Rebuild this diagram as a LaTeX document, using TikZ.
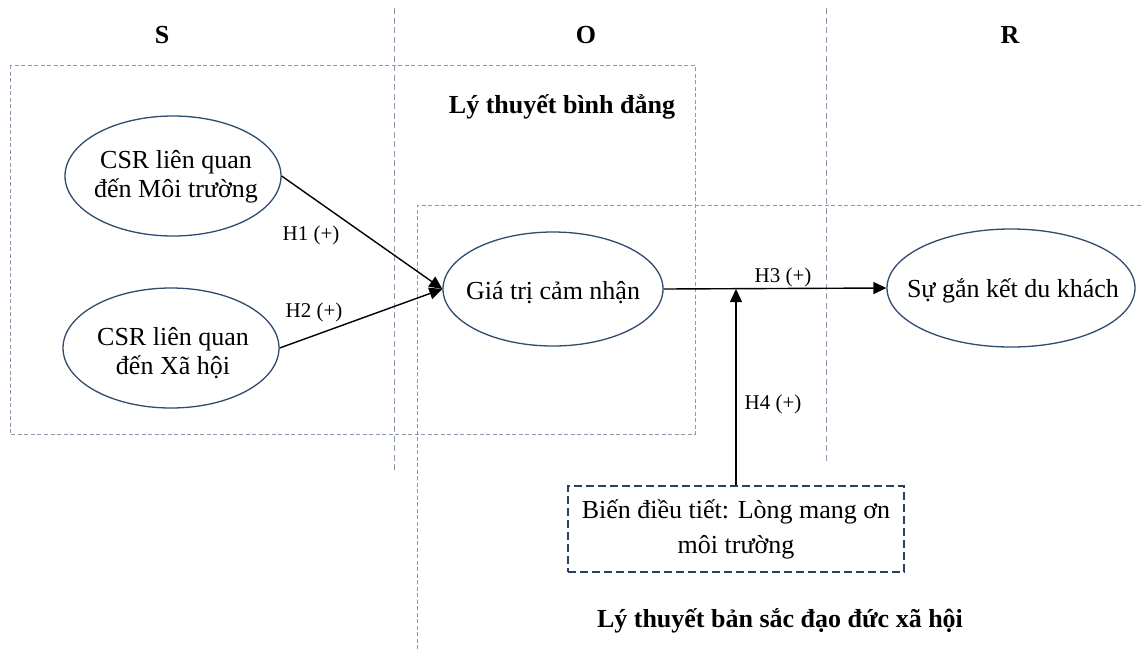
\documentclass[tikz,border=0pt]{standalone}
\usepackage{fontspec}
\setmainfont{Liberation Serif}
\usetikzlibrary{arrows.meta,shapes.geometric,calc}
\definecolor{ellcol}{HTML}{2F4B6E}
\definecolor{dashgrey}{HTML}{8A99AE}
\definecolor{boxcol}{HTML}{27405F}
\begin{document}
\begin{tikzpicture}[x=1pt,y=-1pt,
  ell/.style={ellipse, draw=ellcol, line width=1.3pt, inner sep=0pt},
  etxt/.style={align=center, inner sep=0pt, font=\fontsize{26}{29.5}\selectfont},
  head/.style={inner sep=0pt, anchor=base, font=\bfseries\fontsize{26}{30}\selectfont},
  hlab/.style={inner sep=0pt, anchor=base, font=\fontsize{21}{24}\selectfont},
  region/.style={draw=dashgrey, line width=1pt, dash pattern=on 4pt off 2.5pt},
  divider/.style={draw=dashgrey, line width=1pt, dash pattern=on 6pt off 3.5pt},
  modbox/.style={rectangle, draw=boxcol, line width=1.5pt, dash pattern=on 8pt off 4pt,
    minimum width=336pt, minimum height=86pt, inner sep=0pt, align=center,
    font=\fontsize{26}{35}\selectfont},
  arr/.style={-{Triangle[length=13pt,width=12pt]}, line width=1.4pt, black},
]
\useasboundingbox (0,0) rectangle (1143,649);

% frames and dividers
\draw[divider] (394,8) -- (394,473);
\draw[divider] (826,8) -- (826,463);
\draw[region] (10,65) rectangle (695,434);
\draw[region] (417,649) -- (417,205) -- (1143,205);

% headings
\node[head] (hs) at (162,43) {S};
\node[head] (ho) at (586,43) {O};
\node[head] (hr) at (1010,43) {R};
\node[head] (th1) at (562,113) {Lý thuyết bình đẳng};
\node[head] (th2) at (780,627) {Lý thuyết bản sắc đạo đức xã hội};

% ellipses
\node[ell, minimum width=216pt, minimum height=120pt] (e1) at (173,176) {};
\node[etxt] (e1t) at (176,177) {CSR liên quan\\đến Môi trường};
\node[ell, minimum width=216pt, minimum height=120pt] (e2) at (171,348) {};
\node[etxt] (e2t) at (173,353) {CSR liên quan\\đến Xã hội};
\node[ell, minimum width=220pt, minimum height=114pt] (gia) at (553,289) {};
\node[etxt, anchor=base] (giat) at (553,299) {Giá trị cảm nhận};
\node[ell, minimum width=248pt, minimum height=118pt] (sg) at (1011,288) {};
\node[etxt, anchor=base] (sgt) at (1013,297) {Sự gắn kết du khách};

% moderator box
\node[modbox] (box) at (736,529) {Biến điều tiết: Lòng mang ơn\\môi trường};

% connectors
\draw[arr] (e1.east) -- (gia.west);
\draw[arr] (e2.east) -- (gia.west);
\draw[arr] (gia.east) -- (sg.west);
\coordinate (h4tip) at (box.north |- gia.east);
\draw[arr] (box.north) -- (h4tip);

% hypothesis labels
\node[hlab] (h1) at (311,240) {H1 (+)};
\node[hlab] (h2) at (314,317) {H2 (+)};
\node[hlab] (h3) at (783,282) {H3 (+)};
\node[hlab] (h4) at (773,409) {H4 (+)};
\end{tikzpicture}
\end{document}
